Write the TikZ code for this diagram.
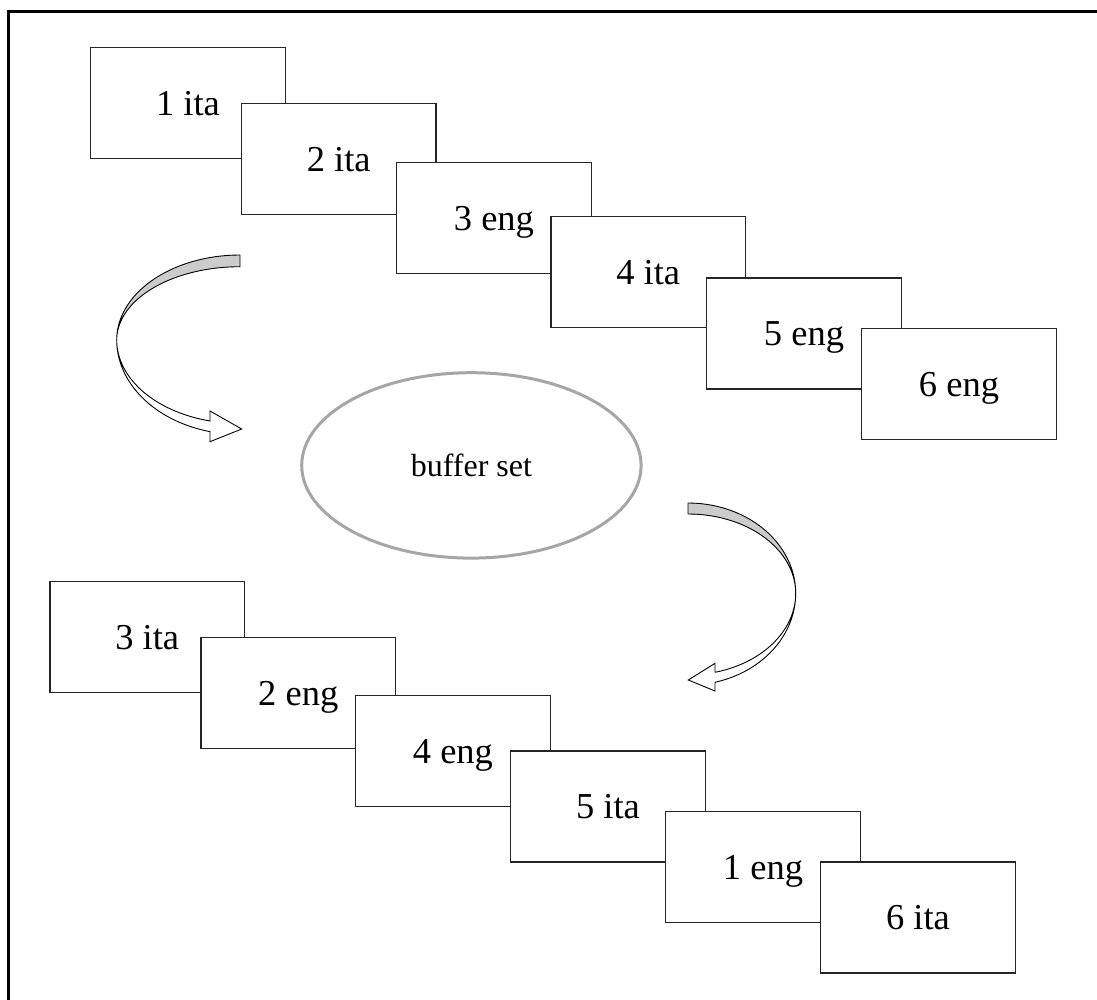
\documentclass[tikz,border=0pt]{standalone}
\usepackage{fontspec}
\setmainfont{Liberation Serif}
\usetikzlibrary{shapes.geometric}

\tikzset{
  card/.style={draw=black!85, line width=1.4pt, fill=white,
    minimum width=194.5pt, minimum height=111pt, inner sep=0pt,
    font=\fontsize{36.5}{41}\selectfont, text height=24.7pt, text depth=0pt},
  pool/.style={ellipse, draw=black!35, line width=3pt, fill=white,
    minimum width=339.4pt, minimum height=185.4pt, inner sep=0pt,
    font=\fontsize{32}{36}\selectfont, text height=21.5pt, text depth=0pt},
  backside/.style={draw=black, line width=0.9pt, fill=black!20, line join=round},
  frontside/.style={draw=black, line width=0.9pt, fill=white, line join=miter},
}

\begin{document}
\begin{tikzpicture}[x=1pt, y=-1pt]
  \useasboundingbox (0,0) rectangle (1097,1000);
  \clip (0,0) rectangle (1097,1000);

  % outer frame
  \draw[line width=2.6pt] (8.5,1010) -- (8.5,11.5) -- (1110,11.5);

  % first sequence of sentences
  \node[card] (t1) at (187.95,103.2) {1 ita};
  \node[card] (t2) at (338.75,159.0) {2 ita};
  \node[card] (t3) at (493.95,217.8) {3 eng};
  \node[card] (t4) at (648.25,272.2) {4 ita};
  \node[card] (t5) at (803.95,333.5) {5 eng};
  \node[card] (t6) at (958.95,384.2) {6 eng};

  % shuffling pool
  \node[pool] (buf) at (471.4,465.4) {buffer set};

  % curved arrow into the pool
  \draw[backside]
    plot[domain=270:180, samples=40] ({240+123.3*cos(\x)},{340+85*sin(\x)})
    -- plot[domain=180:270, samples=40] ({240+123.3*cos(\x)},{340+73.3*sin(\x)})
    -- cycle;
  \draw[frontside]
    plot[domain=180:104.08, samples=40] ({240+123.3*cos(\x)},{340+94.5*sin(\x)})
    -- (210,441.7) -- (241.7,429) -- (210,411) -- (210,421.7)
    -- plot[domain=104.08:180, samples=40] ({240+123.3*cos(\x)},{340+83.5*sin(\x)})
    -- cycle;

  % curved arrow out of the pool
  \draw[backside]
    plot[domain=270:360, samples=40] ({688+107.7*cos(\x)},{593.3+90.3*sin(\x)})
    -- plot[domain=360:270, samples=40] ({688+107.7*cos(\x)},{593.3+79.3*sin(\x)})
    -- cycle;
  \draw[frontside]
    plot[domain=0:75.48, samples=40] ({688+107.7*cos(\x)},{593.3+91.9*sin(\x)})
    -- (715,691) -- (688.3,680) -- (715,663.3) -- (715,672.3)
    -- plot[domain=75.48:0, samples=40] ({688+107.7*cos(\x)},{593.3+81.6*sin(\x)})
    -- cycle;

  % shuffled sequence
  \node[card] (s1) at (147.25,637.2) {3 ita};
  \node[card] (s2) at (298.25,693.2) {2 eng};
  \node[card] (s3) at (452.95,751.2) {4 eng};
  \node[card] (s4) at (607.95,806.5) {5 ita};
  \node[card] (s5) at (762.95,867.2) {1 eng};
  \node[card] (s6) at (917.95,917.5) {6 ita};
\end{tikzpicture}
\end{document}
